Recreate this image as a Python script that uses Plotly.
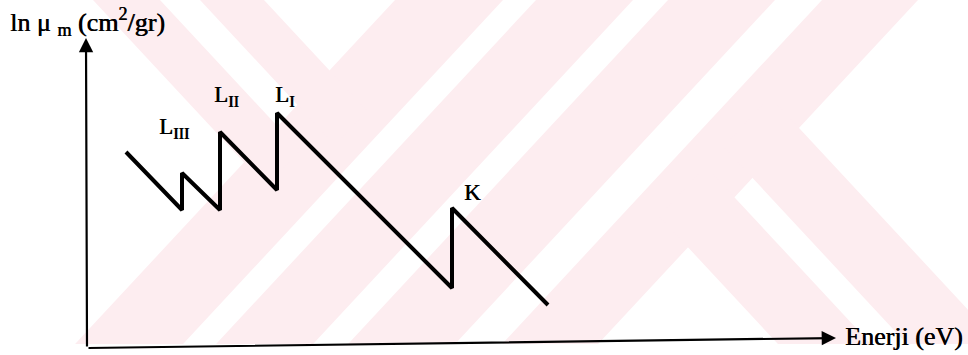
import plotly.graph_objects as go

# Schematic mass attenuation coefficient vs. photon energy, showing the
# L_III, L_II, L_I and K absorption edges (arbitrary units).
energy = [3.9, 9.5, 9.5, 13.3, 13.3, 19.0, 19.0, 36.5, 36.5, 46.1]
ln_mu = [19.5, 13.7, 17.4, 13.7, 21.5, 15.7, 23.4, 5.9, 13.9, 4.2]

edge_labels = ["L<sub>III</sub>", "L<sub>II</sub>", "L<sub>I</sub>", "K"]
edge_label_x = [7.0, 12.5, 18.6, 37.5]
edge_label_y = [21.9, 25.1, 25.1, 15.5]

# Axis arrows (tail -> head), data units
x_axis_tail, x_axis_head = (0.0, -0.1), (74.9, 0.9)
y_axis_tail, y_axis_head = (0.0, -0.1), (-0.1, 30.9)

W, H = 968, 355
FONT = "Liberation Serif"
# slight horizontal smear to give the printed text a heavier stroke
INK = "0.6px 0px 0px black"
PINK = "#FDEDF0"

# --- background emblem built from slanted bands -------------------------
K = 0.93
BIG = 1e5


def clip(poly, a, b, c):
    """Keep the part of a convex polygon where a*x + b*y <= c."""
    out = []
    n = len(poly)
    for i in range(n):
        p, q = poly[i], poly[(i + 1) % n]
        fp = a * p[0] + b * p[1] - c
        fq = a * q[0] + b * q[1] - c
        if fp <= 0:
            out.append(p)
        if fp * fq < 0:
            t = fp / (fp - fq)
            out.append((p[0] + t * (q[0] - p[0]), p[1] + t * (q[1] - p[1])))
    return out


def band(rising=(-BIG, BIG), falling=(-BIG, BIG)):
    poly = [(0, 0), (W, 0), (W, 344), (0, 344)]
    lo, hi = rising
    poly = clip(poly, -1, -K, -lo)
    poly = clip(poly, 1, K, hi)
    lo, hi = falling
    poly = clip(poly, -1, K, -lo)
    poly = clip(poly, 1, -K, hi)
    return poly


bands = [
    band(rising=(395, 503)),
    band(rising=(536, 633)),
    band(rising=(668, 775)),
    band(rising=(822, 918)),
    band(falling=(93, 160), rising=(-BIG, 440)),
    band(falling=(200, 264), rising=(-BIG, 470)),
    band(falling=(458, 551), rising=(860, BIG)),
    band(falling=(587, 680), rising=(860, BIG)),
]

shapes = []
for poly in bands:
    if len(poly) < 3:
        continue
    path = "M " + " L ".join(f"{x / W:.5f},{1 - y / H:.5f}" for x, y in poly) + " Z"
    shapes.append(dict(type="path", path=path, xref="paper", yref="paper",
                       fillcolor=PINK, line=dict(width=0), layer="below"))

fig = go.Figure()
fig.add_trace(go.Scatter(x=energy, y=ln_mu, mode="lines",
                         line=dict(color="black", width=4),
                         hoverinfo="skip", showlegend=False))

annotations = []
for (tx, ty), (hx, hy) in [(x_axis_tail, x_axis_head), (y_axis_tail, y_axis_head)]:
    annotations.append(dict(x=hx, y=hy, ax=tx, ay=ty, xref="x", yref="y",
                            axref="x", ayref="y", text="", showarrow=True,
                            arrowhead=2, arrowsize=1.3, arrowwidth=2.2,
                            arrowcolor="black"))

for lab, lx, ly in zip(edge_labels, edge_label_x, edge_label_y):
    annotations.append(dict(x=lx, y=ly, xref="x", yref="y", text=lab,
                            showarrow=False, xanchor="left", yanchor="middle",
                            font=dict(family=FONT, size=23, color="black",
                                      shadow=INK)))

annotations.append(dict(x=8 / W, y=1 - 22 / H, xref="paper", yref="paper",
                        text="ln μ <sub>m</sub> (cm<sup>2</sup>/gr)",
                        showarrow=False, xanchor="left", yanchor="middle",
                        font=dict(family=FONT, size=26, color="black",
                                  shadow=INK)))
annotations.append(dict(x=843 / W, y=1 - 336 / H, xref="paper", yref="paper",
                        text="Enerji (eV)", showarrow=False,
                        xanchor="left", yanchor="middle",
                        font=dict(family=FONT, size=26, color="black",
                                  shadow=INK)))

fig.update_layout(
    width=W, height=H,
    margin=dict(l=0, r=0, t=0, b=0),
    paper_bgcolor="white", plot_bgcolor="white",
    font=dict(family=FONT, color="black"),
    xaxis=dict(range=[-8.7, 88.1], visible=False, fixedrange=True),
    yaxis=dict(range=[-0.8, 34.7], visible=False, fixedrange=True),
    shapes=shapes,
    annotations=annotations,
    showlegend=False,
)

fig.write_html("out.html")
